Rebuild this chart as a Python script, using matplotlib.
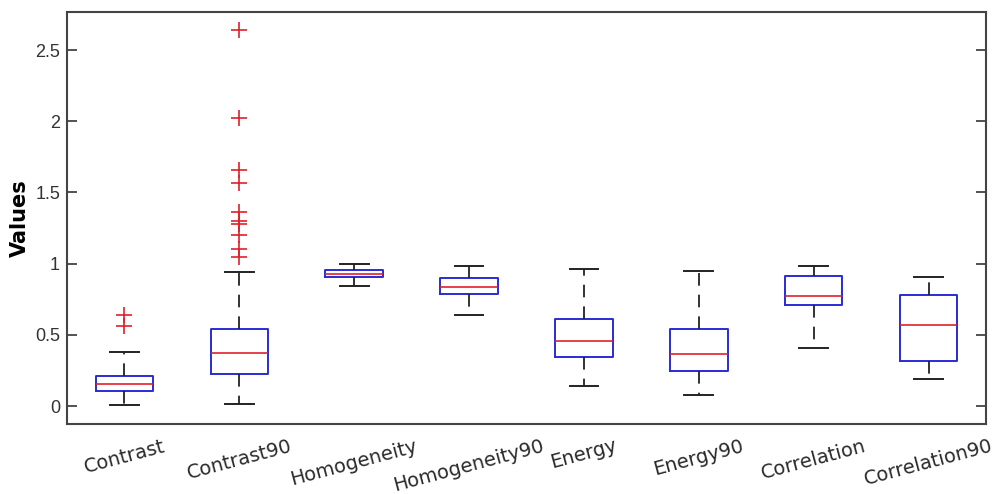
import matplotlib
matplotlib.use("Agg")
import matplotlib.pyplot as plt

# box statistics
labels = ["Contrast", "Contrast90", "Homogeneity", "Homogeneity90",
          "Energy", "Energy90", "Correlation", "Correlation90"]
whislo = [0.007, 0.014, 0.845, 0.64, 0.14, 0.08, 0.407, 0.192]
q1 = [0.105, 0.222, 0.906, 0.79, 0.346, 0.246, 0.707, 0.318]
med = [0.152, 0.372, 0.930, 0.834, 0.454, 0.363, 0.772, 0.567]
q3 = [0.21, 0.54, 0.953, 0.897, 0.613, 0.543, 0.915, 0.782]
whishi = [0.38, 0.94, 0.997, 0.985, 0.96, 0.95, 0.985, 0.904]
fliers = [
    [0.56, 0.64],
    [1.05, 1.10, 1.20, 1.28, 1.30, 1.365, 1.566, 1.655, 2.02, 2.64],
    [], [], [], [], [], [],
]

stats = []
for i, name in enumerate(labels):
    stats.append({"label": name, "whislo": whislo[i], "q1": q1[i], "med": med[i],
                  "q3": q3[i], "whishi": whishi[i], "fliers": fliers[i]})

fig = plt.figure(figsize=(9.97, 4.94), dpi=100)
ax = fig.add_axes([0.0672, 0.1417, 0.9218, 0.834])

ax.bxp(stats, widths=0.5, showfliers=True, capwidths=0.25,
       boxprops=dict(color="#2b2bd6", linewidth=1.4),
       medianprops=dict(color="#e0202a", linewidth=1.2),
       whiskerprops=dict(color="#222222", linewidth=1.3, linestyle=(0, (7, 5))),
       capprops=dict(color="#222222", linewidth=1.4),
       flierprops=dict(marker="+", markeredgecolor="#e0202a", markersize=11,
                       markeredgewidth=1.2, linestyle="none"))

ax.set_xlim(0.5, 8.5)
ax.set_ylim(-0.126, 2.767)
ax.set_yticks([0, 0.5, 1, 1.5, 2, 2.5])
ax.set_yticklabels(["0", "0.5", "1", "1.5", "2", "2.5"],
                   fontfamily="Liberation Sans", fontsize=13, color="#333333")
ax.tick_params(axis="y", direction="in", length=7, width=1.3, color="#444444",
               right=True, pad=5)
ax.tick_params(axis="x", length=0, pad=9)
ax.set_xticklabels(labels, rotation=15, ha="center", fontsize=14,
                   fontfamily="DejaVu Sans", color="#2a2a2a")
ax.set_ylabel("Values", fontsize=15, fontweight="bold", fontfamily="DejaVu Sans")
ax.yaxis.set_label_coords(-0.040, 0.5)

for s in ax.spines.values():
    s.set_color("#444444")
    s.set_linewidth(1.5)

fig.savefig("out.png", dpi=100)
